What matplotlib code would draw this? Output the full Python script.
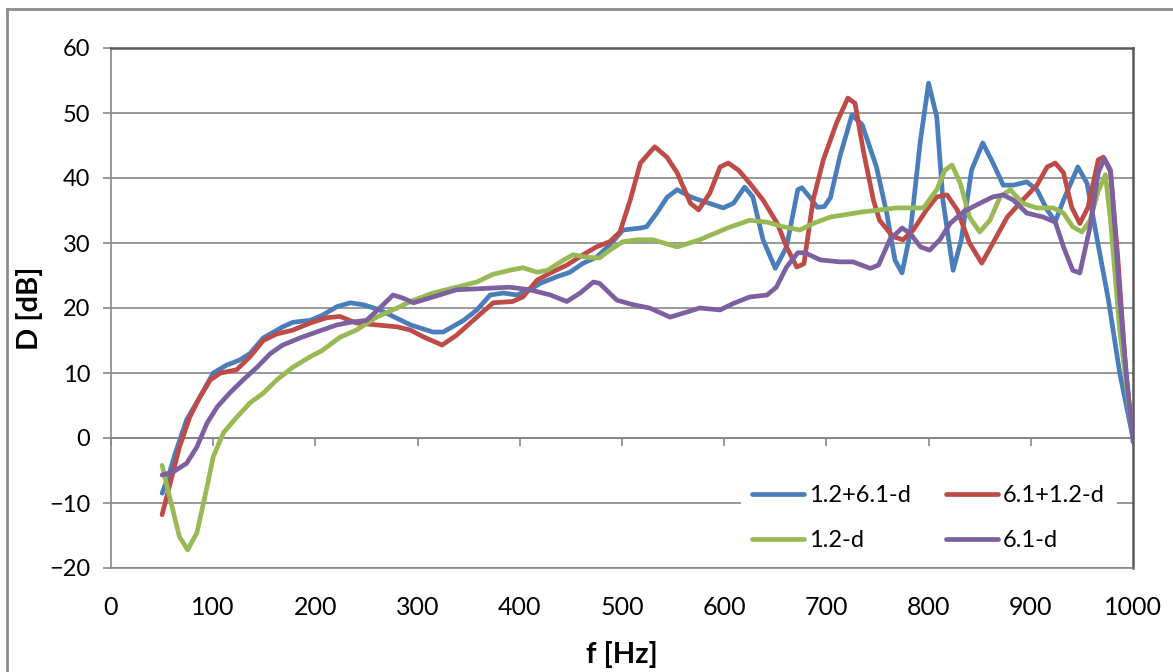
import numpy as np
import matplotlib
matplotlib.use("Agg")
import matplotlib.pyplot as plt
from matplotlib.lines import Line2D

plt.rcParams['font.family'] = ['Lato', 'DejaVu Sans']

# series
f_blue = [50, 56, 63, 74, 87, 100, 113, 126, 136, 149, 168, 178, 195, 207, 221, 234, 247, 263, 280,
          293, 315, 325, 345, 358, 371, 384, 397, 410, 420, 436, 449, 462, 475, 488, 501, 518, 524, 534,
          544, 554, 567, 576, 599, 609, 620, 628, 638, 650, 661, 672, 676, 684, 691, 698, 704, 713, 725,
          735, 749, 759, 767, 774, 782, 792, 800, 808, 814, 824, 832, 842, 853, 863, 873, 883, 896, 906,
          916, 924, 932, 946, 955, 965, 976, 987, 1000]
d_blue = [-8.5, -6, -2.3, 2.8, 6.3, 10, 11.2, 12, 13, 15.4, 17.1, 17.8, 18.1, 18.9, 20.2, 20.8, 20.5,
          19.7, 18.4, 17.4, 16.3, 16.3, 18.1, 19.7, 22, 22.3, 22, 22.8, 23.8, 24.8, 25.5, 26.9, 27.8,
          29.7, 32, 32.3, 32.5, 34.6, 37, 38.2, 37.1, 36.6, 35.4, 36.1, 38.6, 37.1, 30.5, 26.1, 29.4,
          38.2, 38.5, 37, 35.5, 35.6, 37, 43.2, 49.7, 48.2, 41.7, 34.6, 27.4, 25.4, 31.5, 45.8, 54.6,
          49.4, 36.6, 25.8, 30.5, 41.2, 45.4, 42.3, 38.9, 38.9, 39.4, 38.2, 35.1, 33.3, 36.6, 41.7,
          39.2, 30.5, 21.2, 10, 0]

f_red = [50, 58, 67, 77, 87, 97, 107, 123, 136, 149, 162, 178, 195, 211, 224, 240, 260, 280, 293, 305,
         324, 338, 358, 374, 393, 403, 417, 430, 446, 462, 475, 488, 498, 508, 518, 532, 544, 554, 567,
         575, 586, 596, 604, 614, 625, 638, 652, 661, 671, 678, 687, 697, 710, 721, 728, 736, 746, 752,
         765, 775, 785, 798, 808, 818, 828, 840, 852, 863, 877, 892, 906, 916, 924, 932, 940, 948, 956,
         966, 971, 978, 985, 993, 1000]
d_red = [-11.8, -6.9, -1.4, 3.2, 6.3, 8.9, 10, 10.5, 12.5, 15, 16, 16.6, 17.7, 18.5, 18.7, 17.7, 17.4,
         17.1, 16.6, 15.6, 14.3, 15.8, 18.6, 20.8, 21, 21.7, 24.3, 25.4, 26.6, 28.2, 29.4, 30.2, 31.7,
         36.6, 42.3, 44.8, 43.2, 40.8, 36.1, 35.1, 37.7, 41.7, 42.3, 41.2, 39.2, 36.6, 33, 29.4, 26.3,
         26.8, 36.6, 42.8, 48.5, 52.3, 51.5, 44.3, 36.6, 33.5, 31, 30.5, 32, 35.1, 37.1, 37.4, 35.1, 30,
         26.9, 30, 34, 36.6, 38.9, 41.7, 42.3, 40.8, 35.5, 33, 35.5, 42.8, 43.2, 41, 28, 10, 0]

f_green = [50, 58, 67, 75, 84, 94, 100, 110, 123, 136, 149, 162, 178, 195, 207, 224, 240, 260, 280, 293,
           315, 338, 358, 374, 390, 403, 417, 427, 439, 452, 466, 478, 488, 501, 515, 530, 554, 576, 603,
           625, 642, 658, 674, 687, 704, 736, 752, 769, 795, 808, 816, 823, 831, 840, 850, 860, 870, 880,
           892, 906, 922, 932, 941, 950, 958, 966, 973, 978, 987, 1000]
d_green = [-4.2, -9.5, -15.2, -17.2, -14.6, -7.5, -2.9, 0.8, 3.2, 5.4, 6.9, 8.9, 10.9, 12.5, 13.5, 15.5,
           16.6, 18.6, 20, 21, 22.3, 23.2, 24, 25.2, 25.8, 26.2, 25.5, 25.8, 27, 28.2, 27.8, 27.7, 28.9,
           30.2, 30.5, 30.5, 29.4, 30.5, 32.3, 33.5, 33.2, 32.5, 32, 33, 34, 34.8, 35.1, 35.4, 35.4, 38.2,
           41.2, 42, 39.2, 34, 31.7, 33.5, 37.1, 38.2, 36.1, 35.4, 35.4, 34.6, 32.5, 31.7, 33.5, 38, 40.5,
           33.5, 16.6, 0]

f_purple = [50, 61, 74, 84, 94, 104, 116, 129, 143, 156, 168, 185, 201, 221, 234, 250, 263, 276, 286, 296,
            315, 338, 364, 390, 410, 430, 446, 459, 472, 478, 495, 511, 527, 547, 564, 576, 596, 609, 625,
            642, 651, 661, 672, 679, 694, 713, 726, 743, 751, 762, 774, 782, 792, 801, 811, 821, 834, 850,
            863, 873, 883, 896, 912, 924, 932, 941, 948, 958, 966, 972, 978, 982, 987, 994, 1000]
d_purple = [-5.7, -5.2, -3.9, -1.4, 2.3, 4.8, 6.9, 8.9, 10.9, 13, 14.3, 15.4, 16.3, 17.4, 17.8, 18.1, 20,
            22, 21.5, 20.8, 21.7, 22.8, 23, 23.2, 22.8, 22, 21, 22.3, 24, 23.8, 21.2, 20.5, 20, 18.6, 19.4,
            20, 19.7, 20.7, 21.7, 22, 23.2, 26.3, 28.5, 28.5, 27.4, 27.1, 27.1, 26.1, 26.6, 30.5, 32.3,
            31.5, 29.4, 28.9, 30.5, 33, 34.8, 36.1, 37.1, 37.4, 36.6, 34.6, 34, 33.2, 29.4, 25.8, 25.4,
            32.5, 40.8, 43, 41.2, 33, 21.7, 8.9, -0.6]

labels = ['1.2+6.1-d', '6.1+1.2-d', '1.2-d', '6.1-d']
colors = ['#4A7EBB', '#BE4B48', '#98B954', '#7D60A0']

fig = plt.figure(figsize=(11.73, 6.72), dpi=100)
ax = fig.add_axes([111 / 1173, 1 - 568 / 672, 1022 / 1173, 520 / 672])

series = [(f_blue, d_blue), (f_red, d_red), (f_green, d_green), (f_purple, d_purple)]
for (f, d), lab, c in zip(series, labels, colors):
    ax.plot(f, d, color=c, lw=3.4, label=lab, solid_joinstyle='round', solid_capstyle='round', zorder=3)

ax.set_xlim(0, 1000)
ax.set_ylim(-20, 60)
ax.set_yticks(np.arange(-20, 61, 10))
ax.set_xticks(np.arange(0, 1001, 100))
ax.grid(axis='y', color='#878787', lw=1.2)
ax.set_axisbelow(True)

for s in ['top', 'right']:
    ax.spines[s].set_color('#595959')
    ax.spines[s].set_linewidth(1.8)
ax.spines['left'].set_color('#878787')
ax.spines['left'].set_linewidth(1.2)
ax.spines['bottom'].set_color('#878787')
ax.spines['bottom'].set_linewidth(1.2)

ax.tick_params(axis='y', length=6, width=1.2, color='#878787', pad=9, labelsize=17)
ax.tick_params(axis='x', length=0, pad=20, labelsize=18)

# horizontal axis crossing at D = 0, with its tick marks
sec = ax.secondary_xaxis(0.25)
sec.set_xticks(np.arange(0, 1001, 100))
sec.tick_params(axis='x', length=6, width=1.2, color='#878787', labelbottom=False, direction='out')
sec.spines['bottom'].set_color('#878787')
sec.spines['bottom'].set_linewidth(1.4)

ax.set_xlabel('f [Hz]', fontsize=21, fontweight='bold', labelpad=16)
ax.set_ylabel('D [dB]', fontsize=21, fontweight='bold', labelpad=4)

# legend filled row by row as in the reference
order = [0, 2, 1, 3]
handles = [Line2D([], [], color=colors[i], lw=3.4, solid_capstyle='round') for i in order]
leg = ax.legend(handles, [labels[i] for i in order], ncol=2, loc='upper left',
                bbox_to_anchor=(0.616, 0.182), borderaxespad=0,
                fontsize=17, frameon=True, facecolor='white', edgecolor='none', framealpha=1,
                handlelength=2.2, handletextpad=0.2, columnspacing=1.5, labelspacing=1.0,
                borderpad=0.5, fancybox=False)
leg.set_zorder(2)

# outer chart border
fig.add_artist(Line2D([7 / 1173, 7 / 1173], [0, 1 - 9 / 672], color='#8c8c8c', lw=2))
fig.add_artist(Line2D([7 / 1173, 1], [1 - 9 / 672, 1 - 9 / 672], color='#8c8c8c', lw=2))

fig.savefig('out.png', dpi=100)
